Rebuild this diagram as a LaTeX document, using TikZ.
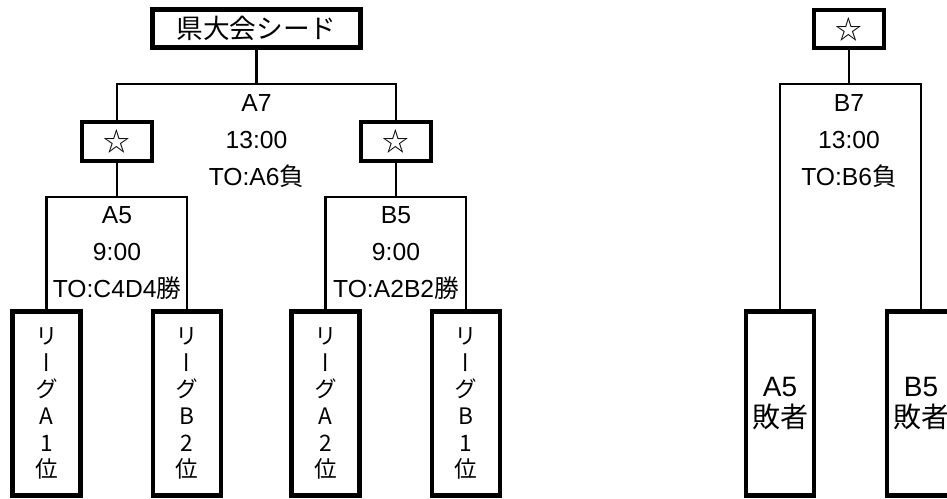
\documentclass[tikz,border=0pt]{standalone}
\usepackage{fontspec}
\setmainfont{Liberation Sans}
\newfontfamily\jp{Noto Sans CJK JP}
\newfontfamily\jpv[RawFeature=+vert]{Noto Sans CJK JP}

\begin{document}
\begin{tikzpicture}[x=0.75pt,y=-0.75pt]
\tikzstyle{seed}=[draw,line width=3.6pt,minimum width=156pt,minimum height=29pt,inner sep=0pt,font=\jp\fontsize{20}{24}\selectfont]
\tikzstyle{star}=[draw,line width=3.2pt,minimum width=52pt,minimum height=29pt,inner sep=0pt,font=\jp\fontsize{20}{22}\selectfont]
\tikzstyle{team}=[draw,line width=3.6pt,minimum width=51pt,minimum height=138pt,inner sep=0pt,align=center,font=\jpv\fontsize{17}{20}\selectfont]
\tikzstyle{game}=[align=center,font=\fontsize{18.5}{27.5}\selectfont]
\tikzstyle{bracket}=[line width=2.2pt]
\useasboundingbox (0,0) rectangle (947,499);
\clip (0,0) rectangle (947,499);
% left block
\node[seed] (seed) at (256.5,28.5){県大会シード};
\node[star] (starL) at (117,141.5){☆};
\node[star] (starR) at (396,141.5){☆};
\node[team] (lA1) at (46.5,403.5){リ\\ー\\グ\\A\\1\\位};
\node[team] (lB2) at (187,403.5){リ\\ー\\グ\\B\\2\\位};
\node[team] (lA2) at (325.5,403.5){リ\\ー\\グ\\A\\2\\位};
\node[team] (lB1) at (466,403.5){リ\\ー\\グ\\B\\1\\位};
\coordinate (a7) at (256.5,84);
\coordinate (a5) at (117,197);
\coordinate (b5) at (396,197);
\draw[bracket] (seed) -- (a7);
\draw[bracket] (starL) |- (a7) -| (starR);
\draw[bracket] (starL) -- (a5);
\draw[bracket] (starR) -- (b5);
\draw[bracket] (lA1) |- (a5) -| (lB2);
\draw[bracket] (lA2) |- (b5) -| (lB1);
\node[game] (gA7) at (256.5,141){A7\\13:00\\TO:A6{\jp 負}};
\node[game] (gA5) at (117,253){A5\\9:00\\TO:C4D4{\jp 勝}};
\node[game] (gB5) at (396,253){B5\\9:00\\TO:A2B2{\jp 勝}};
% right block
\node[star] (starB) at (849,29){☆};
\node[team,font=\fontsize{21}{23}\selectfont] (l5A) at (780,403.5){A5\\{\jp 敗者}};
\node[team,font=\fontsize{21}{23}\selectfont] (l5B) at (921,403.5){B5\\{\jp 敗者}};
\coordinate (b7) at (849,84);
\draw[bracket] (starB) -- (b7);
\draw[bracket] (l5A) |- (b7) -| (l5B);
\node[game] (gB7) at (849,141){B7\\13:00\\TO:B6{\jp 負}};
\end{tikzpicture}
\end{document}
